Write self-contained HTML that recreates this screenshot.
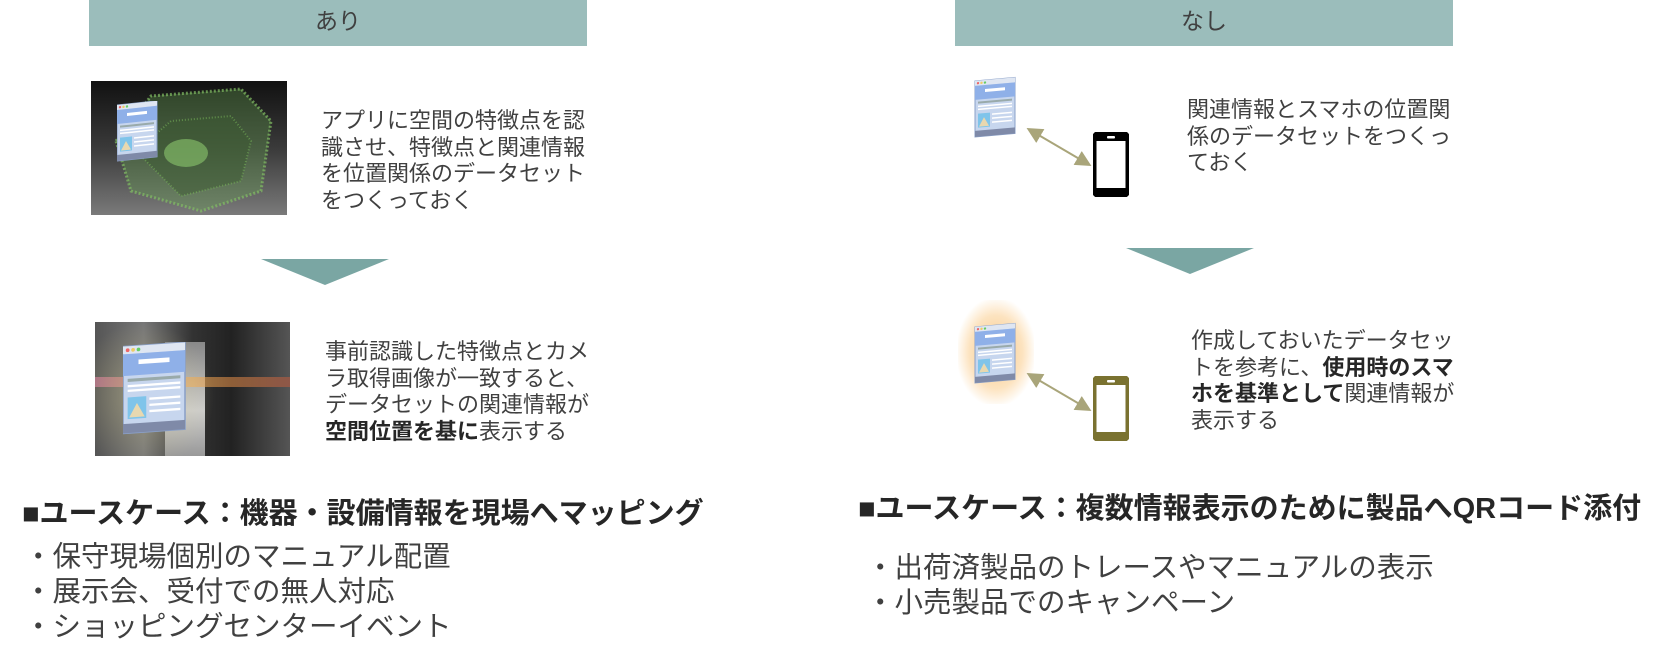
<!DOCTYPE html>
<html><head><meta charset="utf-8">
<style>
body{margin:0;width:1672px;height:665px;background:#fff;position:relative;overflow:hidden;font-family:"Liberation Sans","Noto Sans CJK JP",sans-serif;color:#404040}
.abs{position:absolute}
.hdr{background:#9bbdbb;height:46px;color:#404040;font-size:23px;line-height:42px;text-align:center}
.t{font-size:22px;line-height:26.5px;white-space:nowrap;color:#404040}
.h{font-size:29px;font-weight:bold;color:#262626;white-space:nowrap;line-height:34px}
.b{font-size:28.5px;line-height:35px;white-space:nowrap;color:#404040}
b{color:#262626}
</style></head><body>
<svg width="0" height="0" style="position:absolute"><defs>
<g id="doc">
<rect x="0" y="0" width="40" height="56" fill="#c7d6ee" stroke="#8aa0c8" stroke-width="1"/>
<rect x="0" y="0" width="40" height="5" fill="#dfe6f2"/>
<circle cx="3" cy="2.5" r="1.2" fill="#e66"/><circle cx="6.5" cy="2.5" r="1.2" fill="#ec6"/><circle cx="10" cy="2.5" r="1.2" fill="#6c6"/>
<rect x="0" y="5" width="40" height="14" fill="#8fb0e8"/>
<rect x="10" y="9" width="20" height="3" fill="#fff"/>
<rect x="3" y="21" width="34" height="2" fill="#9aa"/>
<rect x="3" y="25" width="34" height="1.5" fill="#fff"/><rect x="3" y="28" width="34" height="1.5" fill="#fff"/>
<rect x="3" y="33" width="12" height="14" fill="#7fc4ea"/><path d="M4 46 L9 37 L14 46Z" fill="#e8d8b0"/>
<rect x="17" y="34" width="20" height="1.5" fill="#fff"/><rect x="17" y="38" width="20" height="1.5" fill="#fff"/><rect x="17" y="42" width="20" height="1.5" fill="#fff"/>
<rect x="0" y="50" width="40" height="6" fill="#7f8aa8"/>
</g>
<marker id="ah" markerWidth="8" markerHeight="8" refX="6" refY="4" orient="auto-start-reverse"><path d="M0,0 L8,4 L0,8Z" fill="#a9a57a"/></marker>
</defs></svg>

<div class="abs hdr" style="left:89px;top:0;width:498px">あり</div>
<div class="abs hdr" style="left:955px;top:0;width:498px">なし</div>

<!-- image 1 -->
<div class="abs" style="left:91px;top:81px;width:196px;height:134px;background:linear-gradient(180deg,#111 0%,#3a3a3a 50%,#7a7a7a 100%);overflow:hidden">
<svg class="abs" style="left:0;top:0" width="196" height="134">
<path d="M25 60 L60 15 L150 8 L180 40 L170 110 L110 130 L40 110 Z" fill="rgba(100,160,80,.35)" stroke="rgba(130,190,100,.7)" stroke-width="3" stroke-dasharray="2 2"/>
<path d="M45 70 L80 40 L140 35 L160 60 L150 100 L90 115 Z" fill="rgba(60,90,50,.5)" stroke="rgba(120,180,90,.6)" stroke-width="2" stroke-dasharray="1 2"/>
<ellipse cx="95" cy="72" rx="22" ry="14" fill="rgba(140,200,110,.6)"/>
</svg>
<svg class="abs" style="left:26px;top:20px" width="44" height="62"><g transform="skewY(-6) translate(0,4)"><use href="#doc"/></g></svg>
</div>
<div class="abs t" style="left:321px;top:108px">アプリに空間の特徴点を認<br>識させ、特徴点と関連情報<br>を位置関係のデータセット<br>をつくっておく</div>

<svg class="abs" style="left:261px;top:259px" width="128" height="26"><path d="M0 0 L128 0 L64 26Z" fill="#7aa6a3"/></svg>

<!-- image 2 -->
<div class="abs" style="left:95px;top:322px;width:195px;height:134px;background:linear-gradient(90deg,#555 0%,#777 25%,#333 50%,#222 70%,#555 100%);overflow:hidden">
<div class="abs" style="left:70px;top:20px;width:40px;height:114px;background:linear-gradient(180deg,#888,#ccc 60%,#999)"></div>
<div class="abs" style="left:0;top:55px;width:195px;height:10px;background:linear-gradient(90deg,rgba(220,120,160,.6),rgba(240,170,80,.6),rgba(200,90,60,.5))"></div>
<div class="abs" style="left:0;top:0;width:120px;height:134px;background:radial-gradient(ellipse at 40% 55%,rgba(230,220,150,.35),rgba(0,0,0,0) 70%)"></div>
<svg class="abs" style="left:28px;top:20px" width="64" height="95"><g transform="scale(1.55) skewY(-4) translate(0,3)"><use href="#doc"/></g></svg>
</div>
<div class="abs t" style="left:325px;top:339px">事前認識した特徴点とカメ<br>ラ取得画像が一致すると、<br>データセットの関連情報が<br><b>空間位置を基に</b>表示する</div>

<div class="abs h" style="left:22px;top:497px">■ユースケース：機器・設備情報を現場へマッピング</div>
<div class="abs b" style="left:24px;top:540px">・保守現場個別のマニュアル配置<br>・展示会、受付での無人対応<br>・ショッピングセンターイベント</div>

<!-- right -->
<svg class="abs" style="left:974px;top:76px" width="46" height="64"><g transform="skewY(-5) translate(1,5)"><use href="#doc"/></g></svg>
<svg class="abs" style="left:1020px;top:120px" width="80" height="60"><line x1="10" y1="10" x2="68" y2="44" stroke="#a9a57a" stroke-width="2" marker-start="url(#ah)" marker-end="url(#ah)"/></svg>
<svg class="abs" style="left:1093px;top:132px" width="36" height="65"><rect x="1.5" y="1.5" width="33" height="62" rx="3" fill="#fff" stroke="#000" stroke-width="4"/><rect x="1" y="1" width="34" height="8" fill="#000"/><rect x="1" y="56" width="34" height="8" fill="#000"/><rect x="14" y="4" width="8" height="2.5" rx="1" fill="#fff"/></svg>
<div class="abs t" style="left:1187px;top:97px">関連情報とスマホの位置関<br>係のデータセットをつくっ<br>ておく</div>

<svg class="abs" style="left:1126px;top:248px" width="128" height="26"><path d="M0 0 L128 0 L64 26Z" fill="#7aa6a3"/></svg>

<div class="abs" style="left:958px;top:300px;width:76px;height:104px;border-radius:30px;background:radial-gradient(ellipse at center,rgba(245,180,90,.75) 0%,rgba(250,200,130,.5) 50%,rgba(255,230,190,0) 75%)"></div>
<svg class="abs" style="left:974px;top:322px" width="46" height="64"><g transform="skewY(-5) translate(1,5)"><use href="#doc"/></g></svg>
<svg class="abs" style="left:1020px;top:365px" width="80" height="60"><line x1="10" y1="10" x2="68" y2="44" stroke="#a9a57a" stroke-width="2" marker-start="url(#ah)" marker-end="url(#ah)"/></svg>
<svg class="abs" style="left:1093px;top:376px" width="36" height="65"><rect x="1.5" y="1.5" width="33" height="62" rx="3" fill="#fff" stroke="#7a7230" stroke-width="4"/><rect x="1" y="1" width="34" height="8" fill="#7a7230"/><rect x="1" y="56" width="34" height="8" fill="#7a7230"/><rect x="14" y="4" width="8" height="2.5" rx="1" fill="#fff"/></svg>
<div class="abs t" style="left:1191px;top:328px">作成しておいたデータセッ<br>トを参考に、<b>使用時のスマ<br>ホを基準として</b>関連情報が<br>表示する</div>

<div class="abs h" style="left:858px;top:492px">■ユースケース：複数情報表示のために製品へQRコード添付</div>
<div class="abs b" style="left:866px;top:551px">・出荷済製品のトレースやマニュアルの表示<br>・小売製品でのキャンペーン</div>
</body></html>
